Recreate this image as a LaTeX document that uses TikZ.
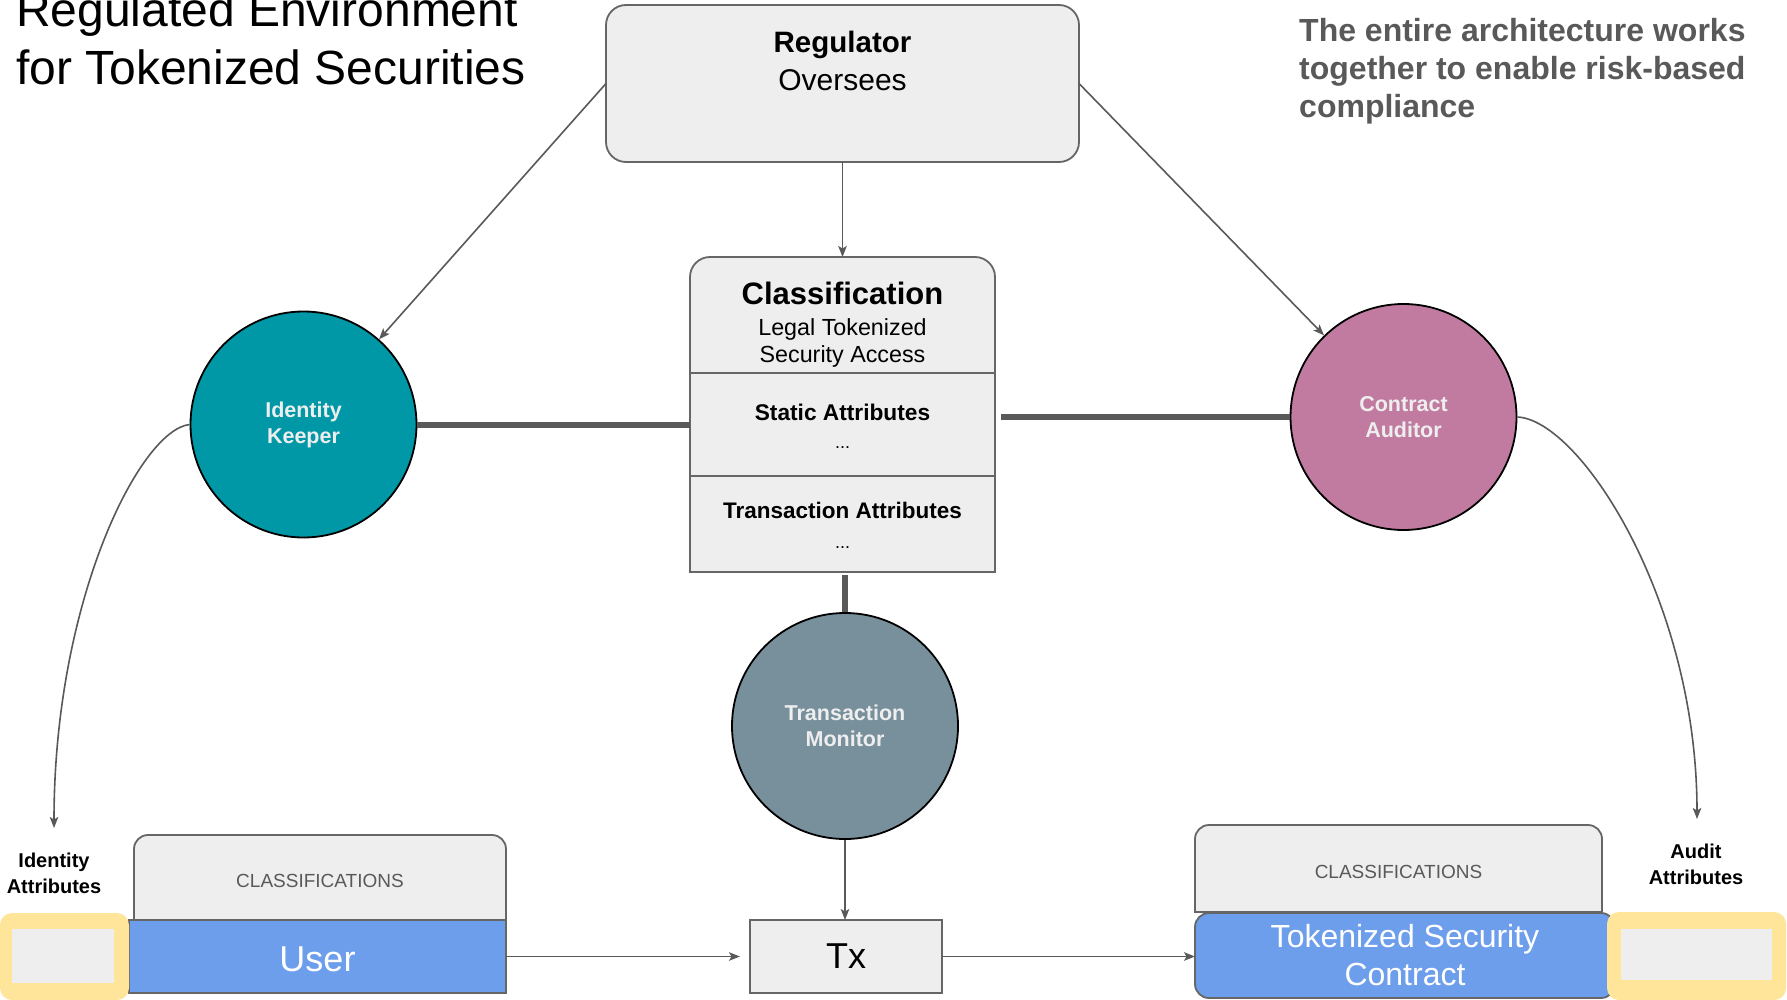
\documentclass[tikz,border=0pt]{standalone}
\usepackage{fontspec}
\setmainfont{Liberation Sans}
\usetikzlibrary{arrows.meta,calc}

\definecolor{boxfill}{HTML}{EEEEEE}
\definecolor{boxline}{HTML}{666666}
\definecolor{connline}{HTML}{595959}
\definecolor{notegray}{HTML}{595959}
\definecolor{ikteal}{HTML}{0097A7}
\definecolor{capink}{HTML}{C27BA0}
\definecolor{tmslate}{HTML}{78909C}
\definecolor{circtext}{HTML}{EEEEEE}
\definecolor{userblue}{HTML}{6D9EEB}
\definecolor{hlyellow}{HTML}{FFE599}

\newcommand\setfs[2]{\fontsize{#1pt}{#2pt}\selectfont}

\begin{document}
\begin{tikzpicture}[x=1pt,y=-1pt,
  box/.style={draw=boxline, fill=boxfill, line width=1.8pt, outer sep=0pt},
  conn/.style={draw=connline, line width=1.6pt, -{Stealth[length=11pt,width=8.5pt,inset=2.5pt]}},
  bar/.style={draw=connline, line width=6pt},
  actor/.style={circle, draw=black, line width=1.8pt, minimum size=226pt, inner sep=0pt,
    align=center, text=circtext, font=\bfseries\setfs{21.5}{26}},
  txt/.style={inner sep=0pt, anchor=base},
  notetxt/.style={inner sep=0pt, anchor=base west, text=notegray, font=\bfseries\setfs{32}{38}},
  titletxt/.style={inner sep=0pt, anchor=base west, font=\setfs{48}{56}},
  classbox/.style={box, rounded corners=14pt, text=notegray, font=\setfs{19}{23},
    text height=20.5pt, text depth=0pt},
  hlbox/.style={fill=hlyellow, rounded corners=12pt},
  slot/.style={fill=boxfill},
  attrlbl/.style={align=center, inner sep=0pt, font=\bfseries\setfs{20}{26}},
]
\fill[white] (0,0) rectangle (1787,1000);
\useasboundingbox (0,0) rectangle (1787,1000);

% heading and note
\node[titletxt] (title1) at (16,27) {Regulated Environment};
\node[titletxt] (title2) at (16,85) {for Tokenized Securities};
\node[notetxt] (note1) at (1299,42) {The entire architecture works};
\node[notetxt] (note2) at (1299,80) {together to enable risk-based};
\node[notetxt] (note3) at (1299,118) {compliance};

% regulator
\node[box, rounded corners=20pt, minimum width=473pt, minimum height=157pt] (reg) at (842.5,83.5) {};
\node[txt, font=\bfseries\setfs{29.5}{35}] (regname) at (842.5,53) {Regulator};
\node[txt, font=\setfs{30}{36}] (regrole) at (842.5,91) {Oversees};

% classification table
\node[box, rounded corners=20pt, minimum width=305pt, minimum height=315pt] (cls) at (842.5,414.5) {};
\filldraw[box] ($(cls.south west)+(0,-30)$) -- (cls.south west) -- (cls.south east) -- ($(cls.south east)+(0,-30)$);
\coordinate (div1) at (0,373);
\coordinate (div2) at (0,476);
\draw[boxline, line width=1.8pt] (cls.west |- div1) -- (cls.east |- div1);
\draw[boxline, line width=1.8pt] (cls.west |- div2) -- (cls.east |- div2);
\node[txt, font=\bfseries\setfs{31}{36}] (clsname) at (842.5,304) {Classification};
\node[txt, font=\setfs{23.3}{28}] (clsl1) at (842.5,335) {Legal Tokenized};
\node[txt, font=\setfs{23.3}{28}] (clsl2) at (842.5,362) {Security Access};
\node[txt, font=\bfseries\setfs{22.7}{28}] (static) at (842.5,420) {Static Attributes};
\node[txt, font=\setfs{18}{22}] (sdots) at (842.5,448) {...};
\node[txt, font=\bfseries\setfs{22.5}{28}] (txattr) at (842.5,518) {Transaction Attributes};
\node[txt, font=\setfs{18}{22}] (tdots) at (842.5,548) {...};

% actors
\node[actor, fill=ikteal] (ik) at (303.5,424.5) {Identity\\Keeper};
\node[actor, fill=capink] (ca) at (1403.5,417) {Contract\\Auditor};
\node[actor, fill=tmslate] (tm) at (845,726) {Transaction\\Monitor};

% user side
\node[classbox, minimum width=372pt, minimum height=85pt] (ucls) at (320,877.5) {CLASSIFICATIONS};
\filldraw[box] ($(ucls.south west)+(0,-20)$) -- (ucls.south west) -- (ucls.south east) -- ($(ucls.south east)+(0,-20)$);
\node[draw=boxline, fill=userblue, line width=1.8pt, outer sep=0pt, minimum width=377pt, minimum height=73pt,
  text=white, font=\setfs{36}{40}, text height=30pt, text depth=0pt] (user) at (317.5,956.5) {User};
\node[hlbox, minimum width=129pt, minimum height=87pt] (iahl) at (64.5,956.5) {};
\node[slot, minimum width=102pt, minimum height=54pt] (iaslot) at (63,956) {};
\node[attrlbl] (ialbl) at (54,873.5) {Identity\\Attributes};

% transaction
\node[box, minimum width=192pt, minimum height=73pt, font=\setfs{36}{40}] (tx) at (846,956.5) {Tx};

% security contract side
\node[classbox, minimum width=407pt, minimum height=87pt] (tcls) at (1398.5,868.5) {CLASSIFICATIONS};
\filldraw[box] ($(tcls.south west)+(0,-20)$) -- (tcls.south west) -- (tcls.south east) -- ($(tcls.south east)+(0,-20)$);
\node[draw=boxline, fill=userblue, line width=1.8pt, outer sep=0pt, rounded corners=14pt, minimum width=420pt,
  minimum height=85pt, text=white, align=center, font=\setfs{32}{38}] (tsc) at (1405,955.5) {Tokenized Security\\Contract};
\node[hlbox, minimum width=179pt, minimum height=88pt] (aahl) at (1696.5,956) {};
\node[slot, minimum width=151pt, minimum height=51pt] (aaslot) at (1696.5,954.5) {};
\node[attrlbl] (aalbl) at (1696,864) {Audit\\Attributes};

% connectors
\draw[conn] (reg.south) -- (cls.north);
\draw[conn] (reg.west) -- (ik);
\draw[conn] (reg.east) -- (ca);
\draw[bar] (ik.east) -- (ik.east -| cls.west);
\draw[bar] ($(cls.east |- ca.west)+(6,0)$) -- (ca.west);
\draw[bar] ($(tm.north |- cls.south)+(0,3)$) -- (tm.north);
\draw[conn] (tm.south) -- (tm.south |- tx.north);
\draw[conn, shorten >=10pt] (user.east) -- (tx.west);
\draw[conn] (tx.east) -- (tx.east -| tsc.west);
\coordinate (iatip) at (54,828);
\coordinate (aatip) at (1697,819);
\draw[conn] (ik.west) .. controls (140,430) and (54,600) .. (iatip);
\draw[conn] (ca.east) .. controls (1580,420) and (1697,600) .. (aatip);
\end{tikzpicture}
\end{document}
